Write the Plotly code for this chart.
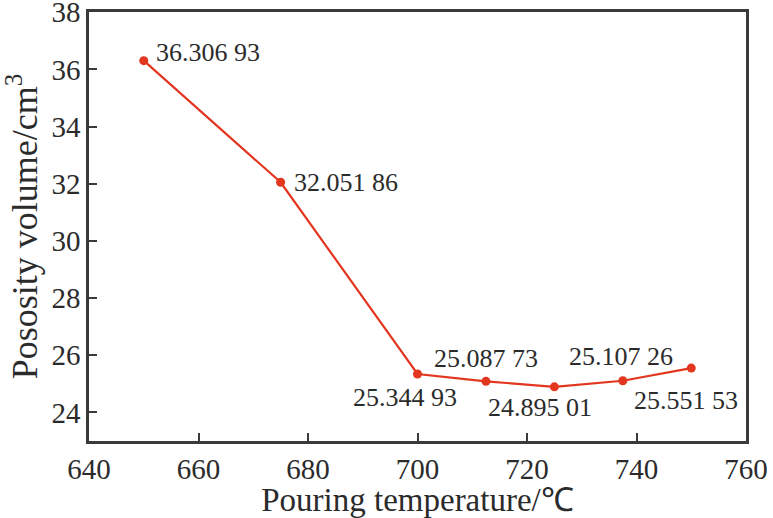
import plotly.graph_objects as go

# pouring temperature (C) vs porosity volume (cm3)
temperature = [650, 675, 700, 712.5, 725, 737.5, 750]
porosity = [36.30693, 32.05186, 25.34493, 25.08773, 24.89501, 25.10726, 25.55153]
point_labels = ["36.306 93", "32.051 86", "25.344 93", "25.087 73",
                "24.895 01", "25.107 26", "25.551 53"]

x_ticks = [640, 660, 680, 700, 720, 740, 760]
y_ticks = [24, 26, 28, 30, 32, 34, 36, 38]

red = "#e2361f"
ink = "#2b2b2b"
serif = "Liberation Serif, Times New Roman, serif"

fig = go.Figure()
fig.add_trace(go.Scatter(
    x=temperature, y=porosity, mode="lines+markers",
    line=dict(color=red, width=2.2),
    marker=dict(color=red, size=9),
    hoverinfo="skip", showlegend=False,
))

# label placement around each point: (dx px, dy px downwards, x anchor)
label_offsets = [(10, -8, "left"), (11, 0, "left"), (-13, 24, "center"),
                 (0, -23, "center"), (-14, 21, "center"), (-2, -24, "center"),
                 (-5, 32, "center")]
for xv, yv, txt, (dx, dy, xa) in zip(temperature, porosity, point_labels, label_offsets):
    fig.add_annotation(
        x=xv, y=yv, text=txt, showarrow=False,
        xshift=dx, yshift=-dy, xanchor=xa, yanchor="middle",
        font=dict(family=serif, size=26, color=ink),
    )

axis_common = dict(
    showline=True, linecolor="#3a3a3a", linewidth=2.5, mirror=True,
    ticks="inside", ticklen=8, tickwidth=2, tickcolor="#3a3a3a",
    showgrid=False, zeroline=False, automargin=False,
    ticklabeloverflow="allow",
    tickfont=dict(family=serif, size=29, color=ink),
)

fig.update_layout(
    width=773, height=518,
    margin=dict(l=89, r=27, t=12, b=77),
    paper_bgcolor="white", plot_bgcolor="white",
    xaxis=dict(range=[640, 760], tickvals=x_ticks,
               title=dict(text="Pouring temperature/℃", standoff=0,
                          font=dict(family=serif, size=33, color=ink)),
               **axis_common),
    yaxis=dict(range=[23, 38.01], tickvals=y_ticks,
               title=dict(text="Pososity volume/cm<sup>3</sup>", standoff=20,
                          font=dict(family=serif, size=36, color=ink)),
               **axis_common),
)

# drop the page's default body margin so the figure fills the window
fig.write_html("out.html", config={"displayModeBar": False},
               post_script="document.body.style.margin='0';")
